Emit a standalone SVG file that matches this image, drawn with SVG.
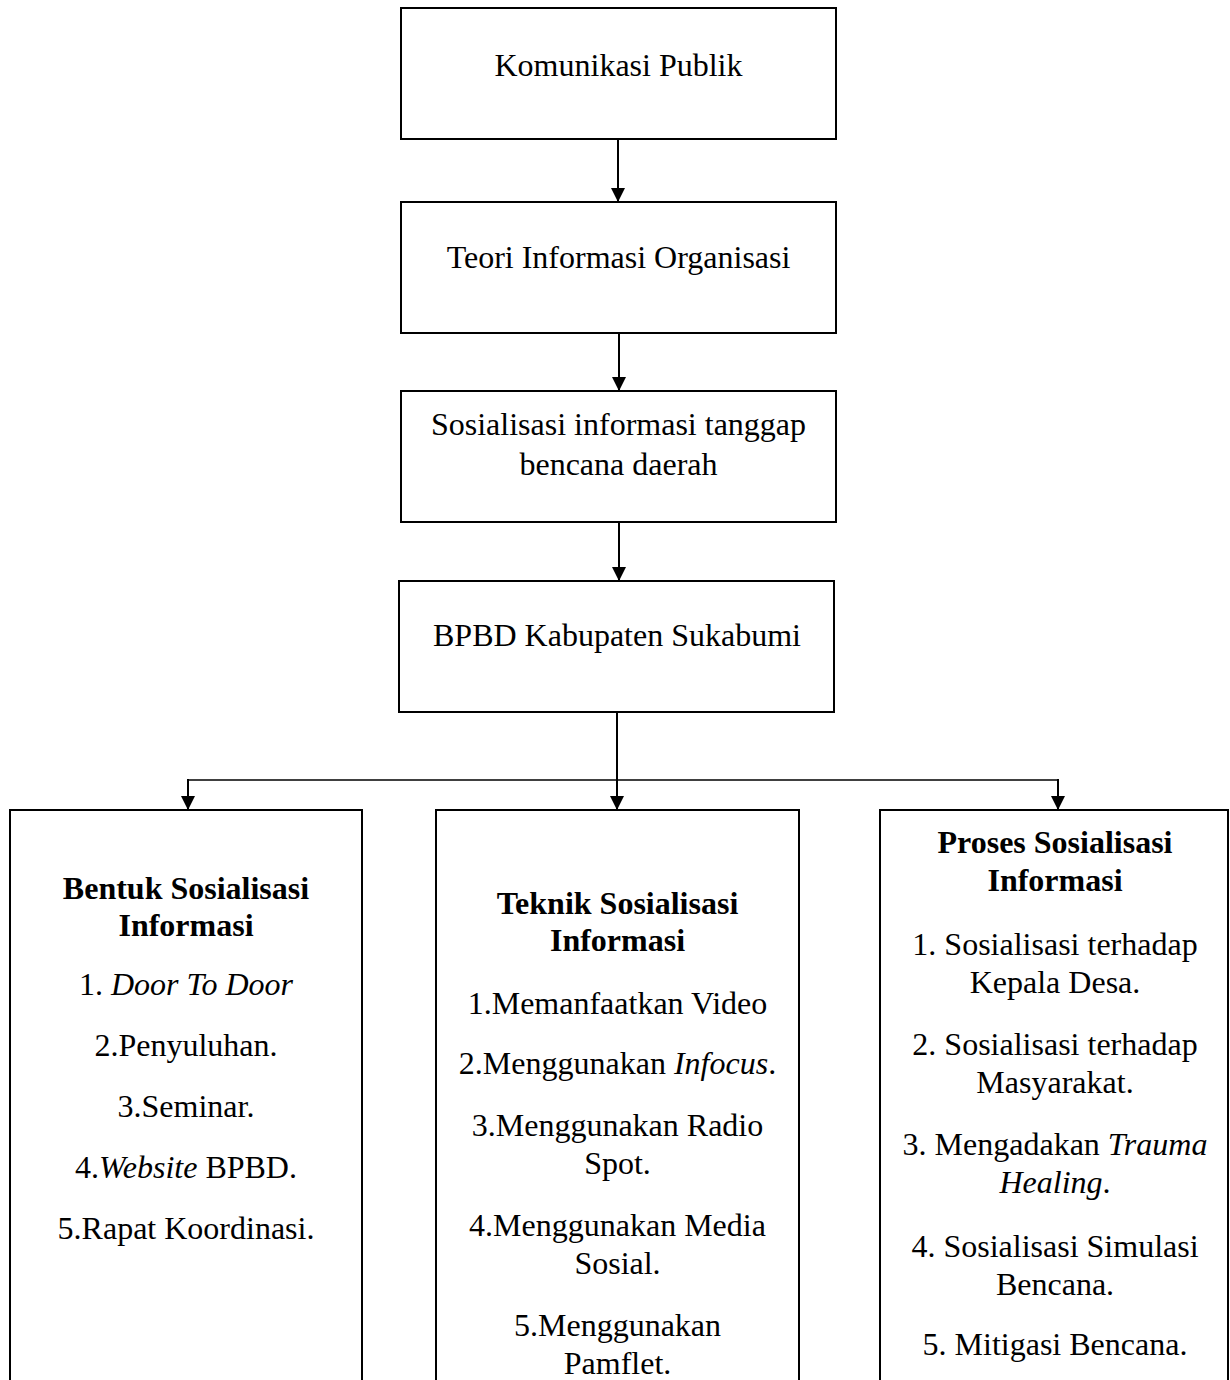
<svg xmlns="http://www.w3.org/2000/svg" width="1230" height="1380" viewBox="0 0 1230 1380">
<style>
  .box { fill: #ffffff; stroke: #000000; stroke-width: 2; }
  .t { font-family: "Liberation Serif", "Times New Roman", serif; font-size: 32px; fill: #000000; text-anchor: middle; }
  .b { font-weight: bold; }
  .i { font-style: italic; }
  .conn { stroke: #000000; stroke-width: 2; fill: none; }
  .thin { stroke: #000000; stroke-width: 1.3; fill: none; }
</style>
<defs>
  <marker id="arrow" viewBox="0 0 14 14" refX="14" refY="7" markerWidth="14" markerHeight="14" orient="auto" markerUnits="userSpaceOnUse">
    <path d="M0,0 L14,7 L0,14 Z" fill="#000000"/>
  </marker>
</defs>
<rect width="1230" height="1380" fill="#ffffff"/>

<g id="connectors">
  <line class="conn" x1="618" y1="139" x2="618" y2="202" marker-end="url(#arrow)"/>
  <line class="conn" x1="619" y1="333" x2="619" y2="391" marker-end="url(#arrow)"/>
  <line class="conn" x1="619" y1="522" x2="619" y2="581" marker-end="url(#arrow)"/>
  <line class="conn" x1="617" y1="712" x2="617" y2="810" marker-end="url(#arrow)"/>
  <line class="thin" x1="188" y1="780" x2="1058" y2="780"/>
  <line class="conn" x1="188" y1="779" x2="188" y2="810" marker-end="url(#arrow)"/>
  <line class="conn" x1="1058" y1="779" x2="1058" y2="810" marker-end="url(#arrow)"/>
</g>

<g id="node-komunikasi">
  <rect class="box" x="401" y="8" width="435" height="131"/>
  <text class="t" x="618.5" y="76">Komunikasi Publik</text>
</g>

<g id="node-teori">
  <rect class="box" x="401" y="202" width="435" height="131"/>
  <text class="t" x="618.5" y="268">Teori Informasi Organisasi</text>
</g>

<g id="node-sosialisasi">
  <rect class="box" x="401" y="391" width="435" height="131"/>
  <text class="t" x="618.5" y="435">Sosialisasi informasi tanggap</text>
  <text class="t" x="618.5" y="475">bencana daerah</text>
</g>

<g id="node-bpbd">
  <rect class="box" x="399" y="581" width="435" height="131"/>
  <text class="t" x="617" y="646">BPBD Kabupaten Sukabumi</text>
</g>

<g id="node-bentuk">
  <rect class="box" x="10" y="810" width="352" height="600"/>
  <text class="t b" x="186" y="899">Bentuk Sosialisasi</text>
  <text class="t b" x="186" y="936">Informasi</text>
  <text class="t" x="186" y="995">1. <tspan class="i">Door To Door</tspan></text>
  <text class="t" x="186" y="1056">2.Penyuluhan.</text>
  <text class="t" x="186" y="1117">3.Seminar.</text>
  <text class="t" x="186" y="1178">4.<tspan class="i">Website</tspan> BPBD.</text>
  <text class="t" x="186" y="1239">5.Rapat Koordinasi.</text>
</g>

<g id="node-teknik">
  <rect class="box" x="436" y="810" width="363" height="600"/>
  <text class="t b" x="617.5" y="914">Teknik Sosialisasi</text>
  <text class="t b" x="617.5" y="951">Informasi</text>
  <text class="t" x="617.5" y="1014">1.Memanfaatkan Video</text>
  <text class="t" x="617.5" y="1074">2.Menggunakan <tspan class="i">Infocus</tspan>.</text>
  <text class="t" x="617.5" y="1136">3.Menggunakan Radio</text>
  <text class="t" x="617.5" y="1174">Spot.</text>
  <text class="t" x="617.5" y="1236">4.Menggunakan Media</text>
  <text class="t" x="617.5" y="1274">Sosial.</text>
  <text class="t" x="617.5" y="1336">5.Menggunakan</text>
  <text class="t" x="617.5" y="1374">Pamflet.</text>
</g>

<g id="node-proses">
  <rect class="box" x="880" y="810" width="348" height="600"/>
  <text class="t b" x="1055" y="853">Proses Sosialisasi</text>
  <text class="t b" x="1055" y="891">Informasi</text>
  <text class="t" x="1055" y="955">1. Sosialisasi terhadap</text>
  <text class="t" x="1055" y="993">Kepala Desa.</text>
  <text class="t" x="1055" y="1055">2. Sosialisasi terhadap</text>
  <text class="t" x="1055" y="1093">Masyarakat.</text>
  <text class="t" x="1055" y="1155">3. Mengadakan <tspan class="i">Trauma</tspan></text>
  <text class="t" x="1055" y="1193"><tspan class="i">Healing</tspan>.</text>
  <text class="t" x="1055" y="1257">4. Sosialisasi Simulasi</text>
  <text class="t" x="1055" y="1295">Bencana.</text>
  <text class="t" x="1055" y="1355">5. Mitigasi Bencana.</text>
</g>
</svg>
